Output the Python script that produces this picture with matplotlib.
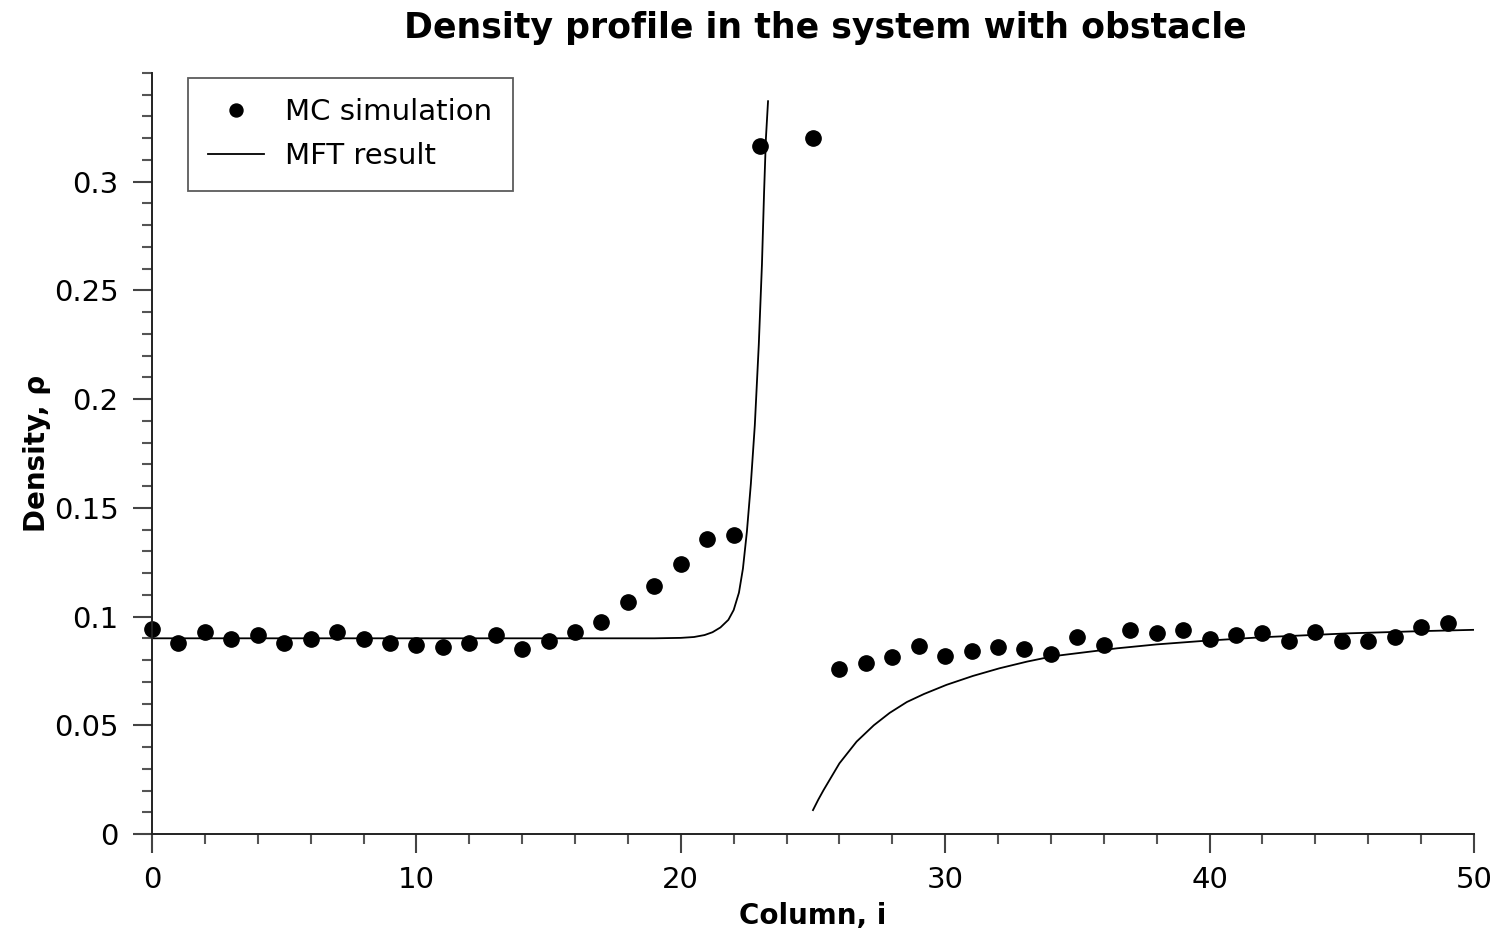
import matplotlib
matplotlib.use("Agg")
import matplotlib.pyplot as plt
from matplotlib.ticker import MultipleLocator

# Monte Carlo density per column (column 24 holds the obstacle)
mc_column = [0, 1, 2, 3, 4, 5, 6, 7, 8, 9, 10, 11, 12, 13, 14, 15, 16, 17, 18, 19,
             20, 21, 22, 23, 25, 26, 27, 28, 29, 30, 31, 32, 33, 34, 35, 36, 37, 38,
             39, 40, 41, 42, 43, 44, 45, 46, 47, 48, 49]
mc_density = [0.0943, 0.0879, 0.0929, 0.0897, 0.0916, 0.0879, 0.0897, 0.0929, 0.0897,
              0.0879, 0.0870, 0.0860, 0.0879, 0.0916, 0.0850, 0.0888, 0.0929, 0.0975,
              0.1067, 0.1141, 0.1242, 0.1357, 0.1376, 0.3166, 0.3203,
              0.0759, 0.0787, 0.0814, 0.0865, 0.0819, 0.0842, 0.0860, 0.0851, 0.0828,
              0.0906, 0.0870, 0.0939, 0.0925, 0.0939, 0.0897, 0.0916, 0.0925, 0.0888,
              0.0929, 0.0888, 0.0888, 0.0906, 0.0952, 0.0971]

# Mean-field profile upstream of the obstacle
mft_up_x = [0.0, 10.0, 19.0, 20.0, 20.5, 20.9, 21.2, 21.5, 21.8, 22.0, 22.2, 22.35,
            22.5, 22.65, 22.8, 22.95, 23.07, 23.15, 23.22, 23.3]
mft_up_y = [0.0900, 0.0900, 0.0900, 0.0902, 0.0906, 0.0915, 0.0928, 0.0950, 0.0985,
            0.1030, 0.1110, 0.1220, 0.1390, 0.1610, 0.1880, 0.2250, 0.2620, 0.2950,
            0.3200, 0.3370]

# Mean-field profile downstream of the obstacle
mft_down_x = [25.0, 25.2, 25.4, 26.0, 26.65, 27.3, 27.9, 28.55, 29.2, 30.05, 31.05,
              32.05, 33.1, 34.1, 35.5, 36.5, 38.0, 39.75, 42.0, 45.3, 48.0, 50.0]
mft_down_y = [0.0110, 0.0158, 0.0202, 0.0325, 0.0425, 0.0500, 0.0557, 0.0607, 0.0644,
              0.0686, 0.0727, 0.0762, 0.0793, 0.0818, 0.0839, 0.0854, 0.0872, 0.0888,
              0.0905, 0.0923, 0.0933, 0.0939]

fig = plt.figure(figsize=(14.99, 9.35), dpi=100)
ax = fig.add_axes([0.1014, 0.108, 0.8819, 0.814])

ax.plot(mft_up_x, mft_up_y, color="black", lw=1.3, label="MFT result")
ax.plot(mft_down_x, mft_down_y, color="black", lw=1.3)
ax.plot(mc_column, mc_density, "o", color="black", ms=11, mec="black",
        label="MC simulation", clip_on=False)

ax.set_xlim(0, 50)
ax.set_ylim(0, 0.35)
ax.xaxis.set_major_locator(MultipleLocator(10))
ax.xaxis.set_minor_locator(MultipleLocator(2))
ax.yaxis.set_minor_locator(MultipleLocator(0.01))
ax.set_yticks([0, 0.05, 0.1, 0.15, 0.2, 0.25, 0.3])
ax.yaxis.set_major_formatter(plt.FuncFormatter(lambda v, p: f"{v:g}"))

for s in ("top", "right"):
    ax.spines[s].set_visible(False)
for s in ("left", "bottom"):
    ax.spines[s].set_linewidth(1.4)
    ax.spines[s].set_color("#222222")

ax.tick_params(which="major", direction="out", length=14, width=1.5, color="#444444",
               labelsize=21)
ax.tick_params(axis="y", which="major", pad=10)
ax.tick_params(axis="x", which="major", pad=9)
ax.tick_params(which="minor", direction="out", length=7, width=1.5, color="#555555")

ax.set_title("Density profile in the system with obstacle", fontsize=25,
             fontweight="bold", pad=25, x=0.509)
ax.set_xlabel("Column, i", fontsize=20, fontweight="bold", labelpad=6)
ax.set_ylabel("Density, ρ", fontsize=20, fontweight="bold", labelpad=2)

handles, labels = ax.get_legend_handles_labels()
leg = ax.legend(handles[::-1], labels[::-1], loc="upper left",
                bbox_to_anchor=(0.027, 0.9934), borderaxespad=0, fontsize=21,
                frameon=True, fancybox=False, edgecolor="#333333",
                handlelength=1.9, borderpad=0.7, labelspacing=0.55,
                handletextpad=0.75, markerscale=0.85)
leg.get_frame().set_linewidth(1.3)

fig.savefig("out.png", dpi=100)
